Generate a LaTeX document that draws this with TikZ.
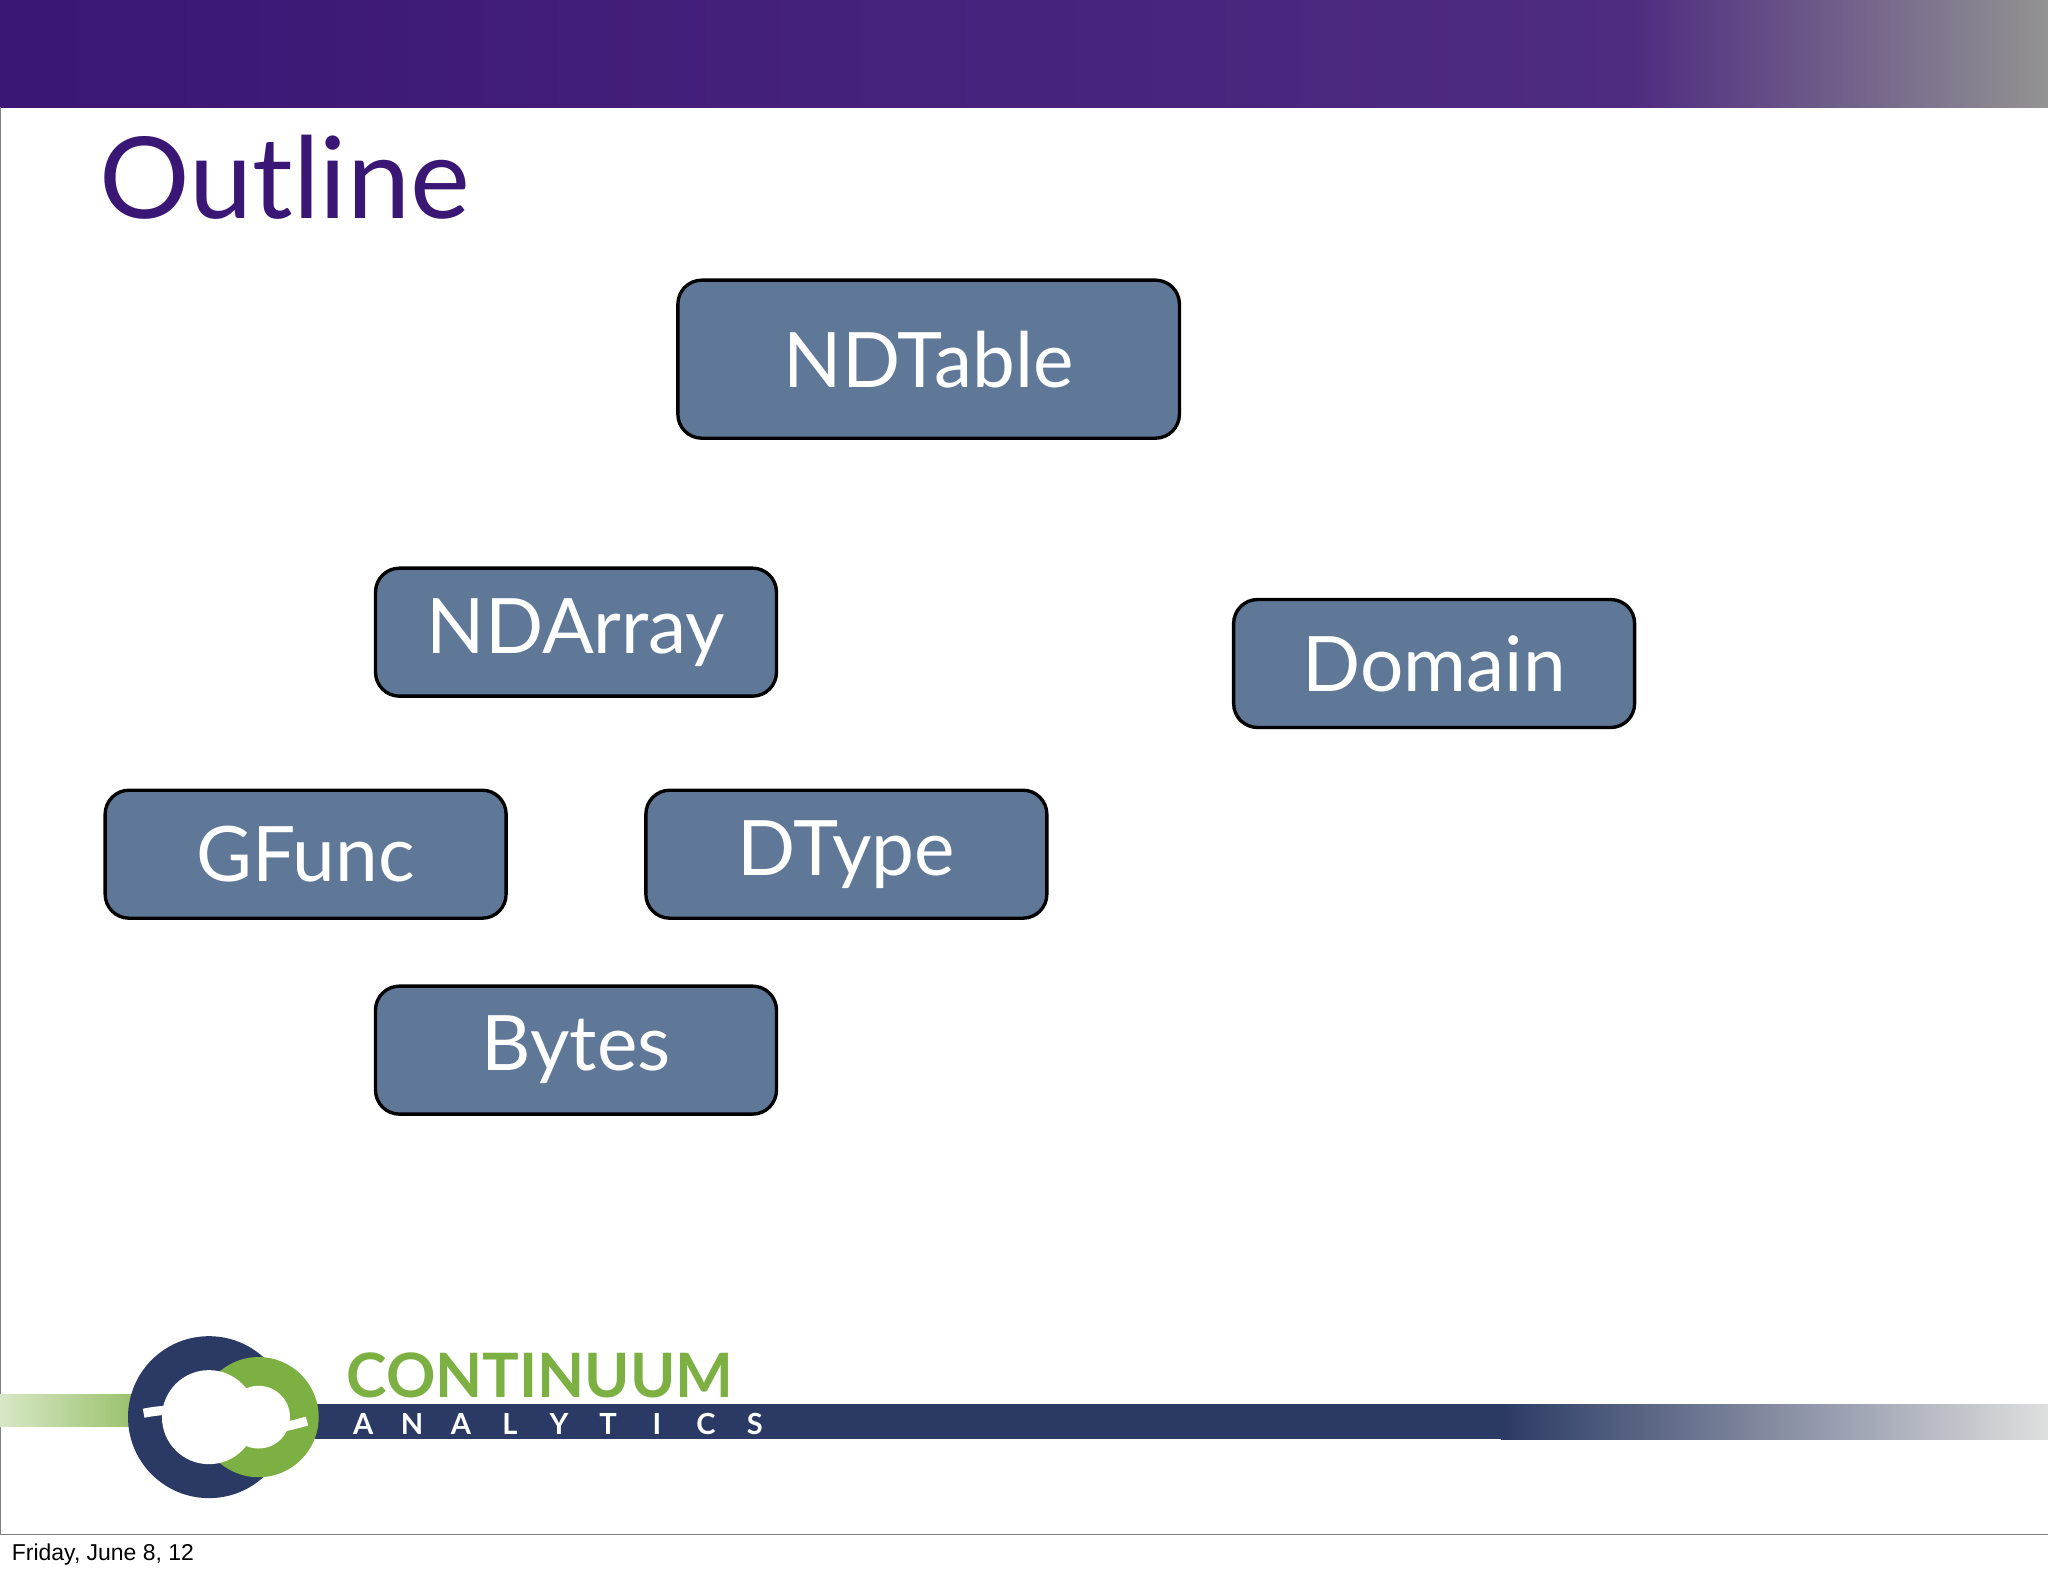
\documentclass[tikz,border=0pt]{standalone}
\usepackage{fontspec}
\setmainfont{Lato}
\newfontfamily\arialf{Liberation Sans}
\definecolor{titlepurple}{HTML}{3A1675}
\definecolor{barmid}{HTML}{4E2C80}
\definecolor{boxblue}{HTML}{5F7898}
\definecolor{navy}{HTML}{2B3A64}
\definecolor{lgreen}{HTML}{7DB043}
\tikzset{
  u/.style={x=0.03cm,y=-0.03cm},
  boxn/.style={draw=black,line width=2.2pt,fill=boxblue,rounded corners=0.55cm,
    minimum width=307*0.03cm,minimum height=98*0.03cm,text=white,
    font=\fontsize{50}{60}\selectfont},
  letn/.style={text=white,font=\fontsize{19}{22}\bfseries\selectfont,inner sep=0pt},
}
\begin{document}
\begin{tikzpicture}[u]
\useasboundingbox (0,0) rectangle (1568,1206);
\fill[white] (0,0) rectangle (1568,1206);
\shade[left color=titlepurple,right color=barmid] (0,0) rectangle (1251,82);
\shade[left color=barmid,right color=gray!85] (1250,0) rectangle (1568,82);
\draw[gray,line width=0.6pt] (0,82) -- (0,1175) -- (1568,1175);
\node[anchor=west,text=titlepurple,font=\fontsize{74}{80}\selectfont] (title) at (72,136) {Outline};
% boxes
\node[boxn,minimum width=384*0.03cm,minimum height=121*0.03cm] (ndtable) at (711,275) {NDTable};
\node[boxn] (ndarray) at (441,484) {NDArray};
\node[boxn] (domain) at (1098,508) {Domain};
\node[boxn] (gfunc) at (234,654) {GFunc};
\node[boxn] (dtype) at (648,654) {DType};
\node[boxn] (bytes) at (441,804) {Bytes};
% logo stripe
\shade[left color=lgreen!30,right color=lgreen] (0,1068) rectangle (150,1092);
\fill[navy] (150,1075) rectangle (1150,1102);
\shade[left color=navy,right color=gray!25] (1149,1075) rectangle (1568,1102);
\fill[navy] (160,1085) circle (62);
\fill[lgreen] (198,1085) circle (46);
\fill[white] (160,1085) circle (36);
\fill[white] (198,1085) circle (24);
\draw[white,line width=6pt] (110,1082) .. controls (170,1070) and (160,1110) .. (235,1088);
\node[anchor=west,text=lgreen,font=\fontsize{40}{44}\bfseries\selectfont,inner sep=0pt] (cont) at (265,1053) {CONTINUUM};
\foreach \l [count=\i] in {A,N,A,L,Y,T,I,C,S}
  \node[letn] (l\i) at ({278+(\i-1)*37.5},1090) {\l};
\node[anchor=west,font=\arialf\fontsize{15}{17}\selectfont] (date) at (5,1190) {Friday, June 8, 12};
\end{tikzpicture}
\end{document}
